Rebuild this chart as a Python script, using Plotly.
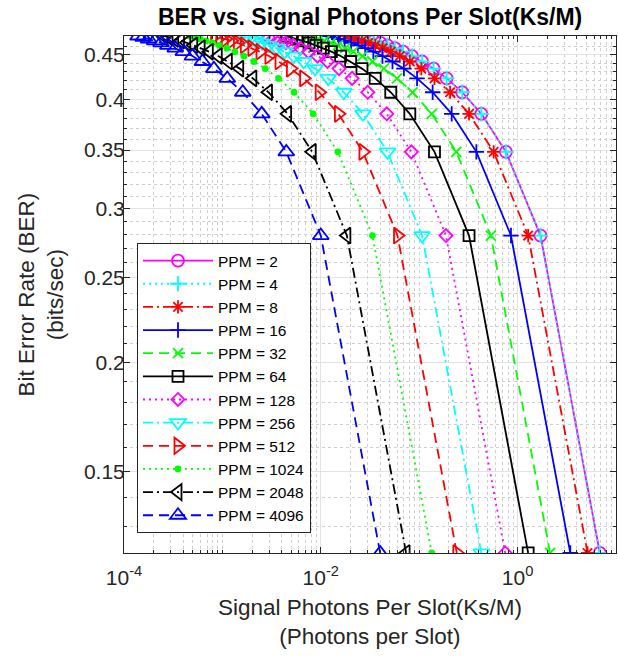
import plotly.graph_objects as go

# Bit error rate levels shared by every PPM curve
ber = [0.1211, 0.2794, 0.3483, 0.3850, 0.4075, 0.4227, 0.4337, 0.4419, 0.4483,
       0.4535, 0.4577, 0.4612, 0.4642, 0.4667, 0.4689, 0.4709, 0.4726]

# Signal photons per slot (Ks/M) for each PPM order
x_ppm2 = [6.85, 1.71, 0.761, 0.428, 0.274, 0.190, 0.140, 0.107, 0.0846,
          0.0685, 0.0566, 0.0476, 0.0405, 0.0349, 0.0304, 0.0268, 0.0237]
x_ppm4 = [6.85, 1.71, 0.761, 0.428, 0.274, 0.190, 0.140, 0.107, 0.0846,
          0.0685, 0.0566, 0.0476, 0.0405, 0.0349, 0.0304, 0.0268, 0.0237]
x_ppm8 = [5.14, 1.28, 0.571, 0.321, 0.206, 0.143, 0.105, 0.0803, 0.0635,
          0.0514, 0.0425, 0.0357, 0.0304, 0.0262, 0.0228, 0.0201, 0.0178]
x_ppm16 = [3.43, 0.856, 0.381, 0.214, 0.137, 0.0951, 0.0699, 0.0535, 0.0423,
           0.0342, 0.0283, 0.0238, 0.0203, 0.0175, 0.0152, 0.0134, 0.0119]
x_ppm32 = [2.14, 0.535, 0.238, 0.134, 0.0856, 0.0594, 0.0437, 0.0334, 0.0264,
           0.0214, 0.0177, 0.0149, 0.0127, 0.0109, 0.00951, 0.00836, 0.00740]
x_ppm64 = [1.28, 0.321, 0.143, 0.0803, 0.0514, 0.0357, 0.0262, 0.0201, 0.0159,
           0.0128, 0.0106, 0.00892, 0.00760, 0.00655, 0.00571, 0.00502, 0.00444]
x_ppm128 = [0.749, 0.187, 0.0832, 0.0468, 0.0300, 0.0208, 0.0153, 0.0117, 0.00925,
            0.00749, 0.00619, 0.00520, 0.00443, 0.00382, 0.00333, 0.00293, 0.00259]
x_ppm256 = [0.428, 0.107, 0.0476, 0.0268, 0.0171, 0.0119, 0.00874, 0.00669, 0.00529,
            0.00428, 0.00354, 0.00297, 0.00253, 0.00218, 0.00190, 0.00167, 0.00148]
x_ppm512 = [0.241, 0.0602, 0.0268, 0.0151, 0.00963, 0.00669, 0.00491, 0.00376, 0.00297,
            0.00241, 0.00199, 0.00167, 0.00142, 0.00123, 0.00107, 0.000941, 0.000833]
x_ppm1024 = [0.134, 0.0335, 0.0149, 0.00836, 0.00535, 0.00372, 0.00273, 0.00209, 0.00165,
             0.00134, 0.00111, 0.000929, 0.000792, 0.000683, 0.000595, 0.000523, 0.000463]
x_ppm2048 = [0.0736, 0.0184, 0.00818, 0.00460, 0.00294, 0.00204, 0.00150, 0.00115, 0.000908,
             0.000736, 0.000608, 0.000511, 0.000435, 0.000375, 0.000327, 0.000287, 0.000255]
x_ppm4096 = [0.0401, 0.0100, 0.00446, 0.00251, 0.00161, 0.00112, 0.000819, 0.000627, 0.000496,
             0.000401, 0.000332, 0.000279, 0.000238, 0.000205, 0.000178, 0.000157, 0.000139]

series_names = ["PPM = 2", "PPM = 4", "PPM = 8", "PPM = 16", "PPM = 32", "PPM = 64",
                "PPM = 128", "PPM = 256", "PPM = 512", "PPM = 1024", "PPM = 2048", "PPM = 4096"]
series_x = [x_ppm2, x_ppm4, x_ppm8, x_ppm16, x_ppm32, x_ppm64,
            x_ppm128, x_ppm256, x_ppm512, x_ppm1024, x_ppm2048, x_ppm4096]

x_ticks = [1e-4, 1e-2, 1e0]
x_tick_text = ["10<sup>-4</sup>", "10<sup>-2</sup>", "10<sup>0</sup>"]
y_ticks = [0.15, 0.2, 0.25, 0.3, 0.35, 0.4, 0.45]
y_tick_text = ["0.15", "0.2", "0.25", "0.3", "0.35", "0.4", "0.45"]

DASH = "10px,6px"
DASHDOT = "10px,4px,2px,4px"
DOT = "2px,4px"
styles = [
    ("#FF00FF", "solid", "circle-open", 12),
    ("#00FFFF", DOT, "cross-thin-open", 11),
    ("#FF0000", DASHDOT, "asterisk-open", 11),
    ("#0000FF", "solid", "cross-thin-open", 11),
    ("#00FF00", DASH, "x-thin-open", 10),
    ("#000000", "solid", "square-open", 11),
    ("#FF00FF", DOT, "diamond-open", 10),
    ("#00FFFF", DASHDOT, "triangle-down-open", 14),
    ("#FF0000", DASH, "triangle-right-open", 14),
    ("#00FF00", DOT, "circle", 5),
    ("#000000", DASHDOT, "triangle-left-open", 14),
    ("#0000FF", DASH, "triangle-up-open", 14),
]

FONT = "Liberation Sans, Arial, Helvetica, sans-serif"
AX = "#262626"

fig = go.Figure()
for name, xs, (color, dash, symbol, size) in zip(series_names, series_x, styles):
    fig.add_trace(go.Scatter(
        x=xs, y=ber, name=name, mode="lines+markers",
        line=dict(color=color, width=1.8, dash=dash),
        marker=dict(symbol=symbol, size=size, color=color,
                    line=dict(color=color, width=1.8)),
    ))

# minor tick / grid positions on both log axes
x_minor = [k * 10.0 ** e for e in range(-4, 1) for k in range(1, 10)
           if not (k == 1 and e in (-4, -2, 0))] + [10.0]
y_minor = [round(0.12 + 0.01 * i, 2) for i in range(35)]
y_minor = [v for v in y_minor if v not in y_ticks and v <= 0.47]

fig.update_layout(
    width=618, height=660,
    margin=dict(l=124, r=2, t=36, b=107),
    paper_bgcolor="white", plot_bgcolor="white",
    font=dict(family=FONT, color=AX, size=21),
    showlegend=True,
    legend=dict(
        x=0.0264, y=0.5996, xanchor="left", yanchor="top",
        bgcolor="white", bordercolor=AX, borderwidth=1,
        font=dict(family=FONT, size=15.5, color="#000000"),
        itemwidth=70, tracegroupgap=0,
    ),
    xaxis=dict(
        type="log", range=[-4, 1],
        tickmode="array", tickvals=x_ticks, ticktext=x_tick_text,
        ticks="inside", ticklen=6, tickcolor=AX,
        showline=True, linecolor=AX, linewidth=1, mirror="ticks",
        showgrid=True, gridcolor="#e3e3e3", gridwidth=1,
        zeroline=False,
        tickfont=dict(size=21, color=AX),
        ticklabelstandoff=6,
        minor=dict(tickmode="array", tickvals=x_minor, ticks="inside", ticklen=3,
                   tickcolor=AX, showgrid=True, gridcolor="#cfcfcf", griddash="dot", gridwidth=1),
    ),
    yaxis=dict(
        type="log", range=[-0.9169, -0.3255],
        tickmode="array", tickvals=y_ticks, ticktext=y_tick_text,
        ticks="inside", ticklen=6, tickcolor=AX,
        showline=True, linecolor=AX, linewidth=1, mirror="ticks",
        showgrid=True, gridcolor="#e3e3e3", gridwidth=1,
        zeroline=False,
        tickfont=dict(size=21, color=AX),
        ticklabelstandoff=-6,
        minor=dict(tickmode="array", tickvals=y_minor, ticks="inside", ticklen=3,
                   tickcolor=AX, showgrid=True, gridcolor="#cfcfcf", griddash="dot", gridwidth=1),
    ),
    annotations=[
        dict(text="<b>BER vs. Signal Photons Per Slot(Ks/M)</b>", xref="paper", yref="paper",
             x=0.5, y=1.0 + 19 / 517, xanchor="center", yanchor="middle", showarrow=False,
             font=dict(family=FONT, size=23, color="#000000")),
        dict(text="Signal Photons Per Slot(Ks/M)<br>(Photons per Slot)", xref="paper", yref="paper",
             x=0.5, y=-(622 - 553) / 517, xanchor="center", yanchor="middle", showarrow=False,
             font=dict(family=FONT, size=22.5, color=AX)),
        dict(text="Bit Error Rate (BER)<br>(bits/sec)", xref="paper", yref="paper",
             x=-(124 - 40) / 492, y=0.5, xanchor="center", yanchor="middle", showarrow=False,
             textangle=-90, font=dict(family=FONT, size=22.5, color=AX)),
    ],
)

fig.write_html("out.html")
